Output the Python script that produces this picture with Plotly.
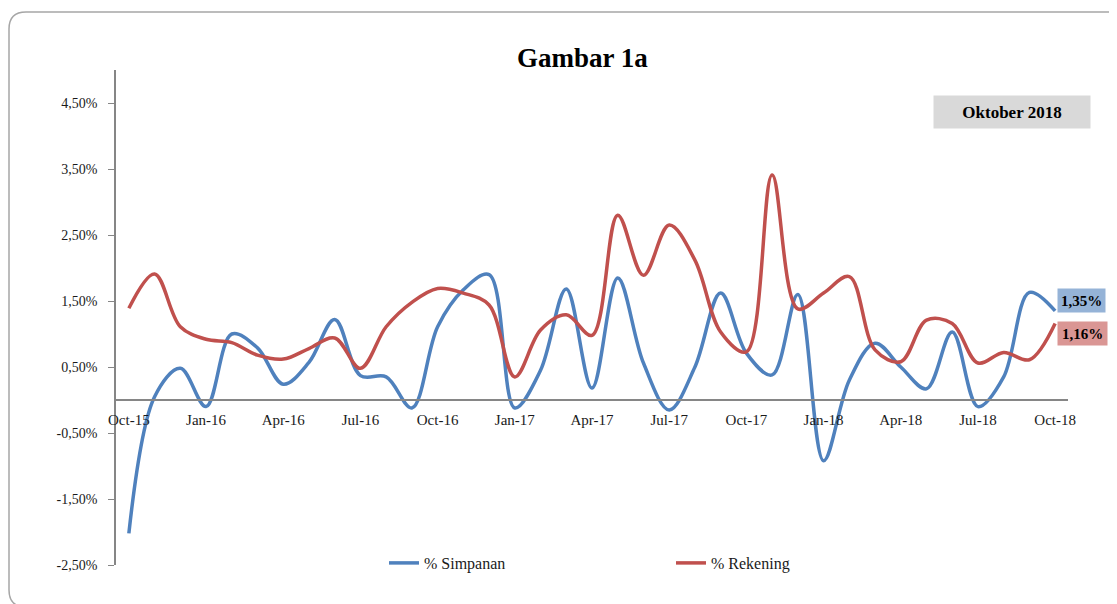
import plotly.graph_objects as go

months = ["Oct-15","Nov-15","Dec-15","Jan-16","Feb-16","Mar-16","Apr-16","May-16","Jun-16",
          "Jul-16","Aug-16","Sep-16","Oct-16","Nov-16","Dec-16","Jan-17","Feb-17","Mar-17",
          "Apr-17","May-17","Jun-17","Jul-17","Aug-17","Sep-17","Oct-17","Nov-17","Dec-17",
          "Jan-18","Feb-18","Mar-18","Apr-18","May-18","Jun-18","Jul-18","Aug-18","Sep-18","Oct-18"]

simpanan = [-2.02, 0.05, 0.48, -0.10, 1.00, 0.79, 0.24, 0.57, 1.22,
            0.37, 0.35, -0.12, 1.11, 1.67, 1.90, -0.12, 0.45, 1.68,
            0.18, 1.85, 0.56, -0.15, 0.50, 1.62, 0.71, 0.38, 1.60,
            -0.92, 0.30, 0.86, 0.50, 0.17, 1.03, -0.10, 0.35, 1.63, 1.35]

rekening = [1.39, 1.91, 1.11, 0.92, 0.87, 0.68, 0.62, 0.78, 0.94,
            0.48, 1.11, 1.48, 1.69, 1.62, 1.44, 0.35, 1.06, 1.29,
            0.98, 2.80, 1.89, 2.65, 2.12, 1.03, 0.73, 3.41, 1.38,
            1.62, 1.87, 0.76, 0.58, 1.21, 1.16, 0.56, 0.72, 0.61, 1.16]

y_ticks = [-2.5, -1.5, -0.5, 0.5, 1.5, 2.5, 3.5, 4.5]
y_ticktext = [f"{v:.2f}%".replace(".", ",") for v in y_ticks]
x_ticks = months[::3]

OFF = 8  # browser body margin
W, H = 1117 - OFF, 604 - OFF
L, R, T, B = 116, 1068, 70, 565
def px(x): return (x - L) / (R - L)
def py(y): return (B - y) / (B - T)

FONT = "Liberation Serif"
BLUE = "#4f81bd"
RED = "#c0504d"

fig = go.Figure()
fig.add_trace(go.Scatter(x=months, y=simpanan, name="% Simpanan", mode="lines",
                         line=dict(color=BLUE, width=3.5, shape="spline", smoothing=1.0)))
fig.add_trace(go.Scatter(x=months, y=rekening, name="% Rekening", mode="lines",
                         line=dict(color=RED, width=3.5, shape="spline", smoothing=1.0)))

zero_pos = (0 - (-2.5)) / (5 - (-2.5))

fig.update_layout(
    width=W, height=H,
    margin=dict(l=L - OFF, r=(1117 - R), t=T - OFF, b=(604 - B)),
    paper_bgcolor="white", plot_bgcolor="white",
    font=dict(family=FONT, size=14, color="#1a1a1a"),
    showlegend=True,
    legend=dict(orientation="h", x=px(384), xanchor="left", y=py(563), yanchor="middle",
                entrywidth=242, entrywidthmode="pixels",
                font=dict(family=FONT, size=16, color="#1a1a1a")),
    xaxis=dict(type="category", range=[-0.5, 36.5], tickmode="array", tickvals=x_ticks,
               ticktext=x_ticks, showline=True, linecolor="#868686", linewidth=1.5,
               showgrid=False, zeroline=False, anchor="free", position=zero_pos,
               ticks="outside", ticklen=6, tickcolor="rgba(0,0,0,0)",
               tickfont=dict(family=FONT, size=15, color="#1a1a1a")),
    yaxis=dict(range=[-2.5, 5.0], tickmode="array", tickvals=y_ticks, ticktext=y_ticktext,
               showline=True, linecolor="#868686", linewidth=1.5, showgrid=False,
               zeroline=False, ticks="outside", ticklen=6, tickcolor="#868686",
               ticklabelstandoff=8,
               tickfont=dict(family=FONT, size=14, color="#1a1a1a")),
)

# outer rounded border
path = (f"M {px(1130)} {py(12)} L {px(26)} {py(12)} Q {px(9)} {py(12)} {px(9)} {py(29)} "
        f"L {px(9)} {py(590)} Q {px(9)} {py(607)} {px(26)} {py(607)} L {px(1130)} {py(607)}")
fig.add_shape(type="path", path=path, xref="paper", yref="paper",
              line=dict(color="#a6a6a6", width=1.5))

fig.add_annotation(x=px(582), y=py(58), xref="paper", yref="paper", text="<b>Gambar 1a</b>",
                   showarrow=False, font=dict(family=FONT, size=27, color="black"),
                   xanchor="center", yanchor="middle")

fig.add_annotation(x=px(1012), y=py(112), xref="paper", yref="paper", text="<b>Oktober 2018</b>",
                   showarrow=False, font=dict(family=FONT, size=17, color="black"),
                   bgcolor="#d9d9d9", width=150, height=26, borderpad=3,
                   xanchor="center", yanchor="middle")

fig.add_annotation(x=px(1081.5), y=py(300.5), xref="paper", yref="paper", text="<b>1,35%</b>",
                   showarrow=False, font=dict(family=FONT, size=15, color="black"),
                   bgcolor="#95b3d7", width=41, height=17, borderpad=3,
                   xanchor="center", yanchor="middle")
fig.add_annotation(x=px(1082.5), y=py(333.5), xref="paper", yref="paper", text="<b>1,16%</b>",
                   showarrow=False, font=dict(family=FONT, size=15, color="black"),
                   bgcolor="#da9694", width=43, height=17, borderpad=3,
                   xanchor="center", yanchor="middle")

fig.write_html("out.html")
